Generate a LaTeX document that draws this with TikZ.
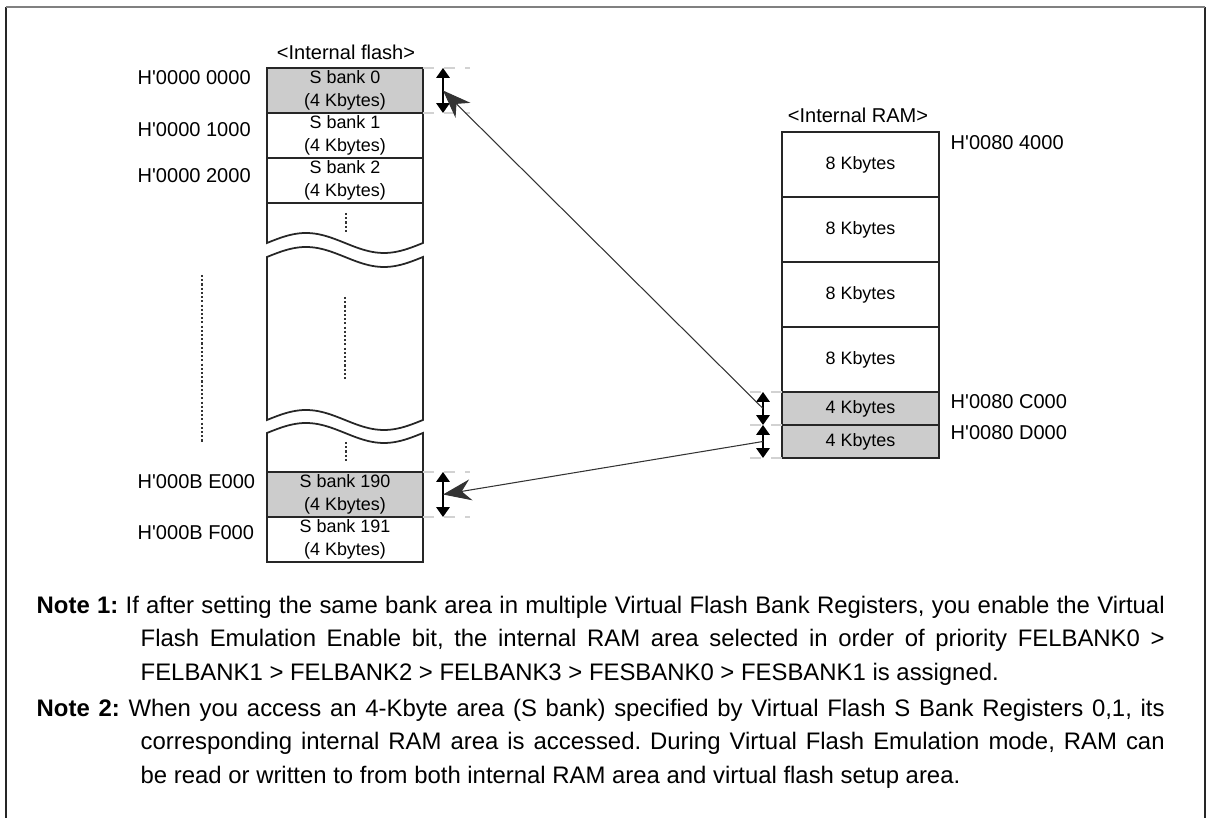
\documentclass[tikz,border=0pt]{standalone}
\usepackage{fontspec}
\setmainfont{Liberation Sans}
\usetikzlibrary{arrows.meta}

\begin{document}
\begin{tikzpicture}[
    >=Stealth,
    wall/.style={line width=0.5pt, draw=black!85},
    bank/.style={wall, minimum width=1.56cm, minimum height=0.45cm, inner sep=0pt, outer sep=0pt, align=center, font=\fontsize{5.1}{6.5}\selectfont},
    filled/.style={fill=gray!40},
    rambox/.style={bank, minimum width=1.57cm},
    addr/.style={font=\fontsize{5.7}{6.8}\selectfont, anchor=west, inner sep=0pt},
    title/.style={font=\fontsize{5.7}{6.8}\selectfont, inner sep=0pt},
    guide/.style={dashed, gray!35, line width=0.3pt},
    span/.style={{Triangle[width=3.8pt,length=2.8pt]}-{Triangle[width=3.8pt,length=2.8pt]}, line width=0.5pt},
    link/.style={-{Stealth[length=8pt,width=6pt]}, line width=0.3pt, black!80},
    dots/.style={line width=0.6pt, dash pattern=on 0.6pt off 0.6pt, black!80},
    note/.style={font=\fontsize{6.8}{9.67}\selectfont\frenchspacing, text width=11.28cm, align=justify, anchor=north west, inner sep=0pt}
]
    \useasboundingbox (0,0) rectangle (12.06,-8.18);

    % frame, open at the bottom
    \draw[line width=0.6pt, black!85] (0.06,-8.18) -- (0.06,-0.07);
    \draw[line width=0.6pt, black!85] (12.05,-0.07) -- (12.05,-8.18);
    \draw[line width=0.7pt, gray] (0.06,-0.07) -- (12.05,-0.07);

    % internal flash
    \node[title] (flash) at (3.46,-0.52) {<Internal flash>};
    \node[bank, filled] (s0) at (3.45,-0.905) {S bank 0\\(4 Kbytes)};
    \node[bank] (s1) at (3.45,-1.355) {S bank 1\\(4 Kbytes)};
    \node[bank] (s2) at (3.45,-1.805) {S bank 2\\(4 Kbytes)};
    \node[bank, filled] (s190) at (3.45,-4.945) {S bank 190\\(4 Kbytes)};
    \node[bank] (s191) at (3.45,-5.395) {S bank 191\\(4 Kbytes)};

    \draw[wall] (s2.south west) -- (2.67,-2.43)
        -- plot[domain=2.67:4.23, samples=50] (\x,{-2.43+0.1*sin(360*(\x-2.67)/1.56)})
        -- (s2.south east);
    \draw[wall] plot[domain=2.67:4.23, samples=50] (\x,{-2.57+0.1*sin(360*(\x-2.67)/1.56)})
        -- (4.23,-4.20)
        -- plot[domain=4.23:2.67, samples=50] (\x,{-4.20+0.1*sin(360*(\x-2.67)/1.56)})
        -- cycle;
    \draw[wall] (s190.north west) -- (2.67,-4.33)
        -- plot[domain=2.67:4.23, samples=50] (\x,{-4.33+0.1*sin(360*(\x-2.67)/1.56)})
        -- (s190.north east);

    \draw[dots] (3.46,-2.13) -- (3.46,-2.34);
    \draw[dots] (3.45,-2.97) -- (3.45,-3.80);
    \draw[dots] (3.46,-4.42) -- (3.46,-4.63);
    \draw[dots] (2.02,-2.75) -- (2.02,-4.43);

    \node[addr] (a0) at (1.37,-0.78) {H\textquotesingle 0000 0000};
    \node[addr] (a1) at (1.37,-1.30) {H\textquotesingle 0000 1000};
    \node[addr] (a2) at (1.37,-1.76) {H\textquotesingle 0000 2000};
    \node[addr] (a190) at (1.37,-4.82) {H\textquotesingle 000B E000};
    \node[addr] (a191) at (1.37,-5.33) {H\textquotesingle 000B F000};

    % internal RAM
    \node[title] (ram) at (8.58,-1.15) {<Internal RAM>};
    \node[rambox, minimum height=0.65cm] (r1) at (8.605,-1.645) {8 Kbytes};
    \node[rambox, minimum height=0.65cm] (r2) at (8.605,-2.295) {8 Kbytes};
    \node[rambox, minimum height=0.65cm] (r3) at (8.605,-2.945) {8 Kbytes};
    \node[rambox, minimum height=0.65cm] (r4) at (8.605,-3.595) {8 Kbytes};
    \node[rambox, filled, minimum height=0.33cm] (r5) at (8.605,-4.085) {4 Kbytes};
    \node[rambox, filled, minimum height=0.33cm] (r6) at (8.605,-4.415) {4 Kbytes};

    \node[addr] (b1) at (9.50,-1.43) {H\textquotesingle 0080 4000};
    \node[addr] (b5) at (9.50,-4.02) {H\textquotesingle 0080 C000};
    \node[addr] (b6) at (9.50,-4.33) {H\textquotesingle 0080 D000};

    % extents and mapping
    \draw[guide] (s0.north east) -- ++(0.47,0);
    \draw[guide] (s0.south east) -- ++(0.47,0);
    \draw[guide] (s190.north east) -- ++(0.47,0);
    \draw[guide] (s190.south east) -- ++(0.47,0);
    \draw[guide] (r5.north west) -- ++(-0.42,0);
    \draw[guide] (r5.south west) -- ++(-0.42,0);
    \draw[guide] (r6.south west) -- ++(-0.42,0);

    \draw[span] ([xshift=0.2cm]s0.north east) -- ([xshift=0.2cm]s0.south east);
    \draw[span] ([xshift=0.2cm]s190.north east) -- ([xshift=0.2cm]s190.south east);
    \draw[span] ([xshift=-0.19cm]r5.north west) -- ([xshift=-0.19cm]r5.south west);
    \draw[span] ([xshift=-0.19cm]r6.north west) -- ([xshift=-0.19cm]r6.south west);

    \draw[link] ([xshift=-0.19cm]r5.west) -- ([xshift=0.2cm]s0.east);
    \draw[link] ([xshift=-0.19cm]r6.west) -- ([xshift=0.2cm]s190.east);

    % notes
    \node[note] (n1) at (0.36,-5.95) {\hangindent=1.04cm\hangafter=1\tolerance=9999
        \textbf{Note 1:} If after setting the same bank area in multiple Virtual Flash Bank Registers, you enable the Virtual\linebreak
        Flash Emulation Enable bit, the internal RAM area selected in order of priority FELBANK0 >\linebreak
        FELBANK1 > FELBANK2 > FELBANK3 > FESBANK0 > FESBANK1 is assigned.\par};
    \node[note] (n2) at (0.36,-6.98) {\hangindent=1.04cm\hangafter=1\tolerance=9999
        \textbf{Note 2:} When you access an 4-Kbyte area (S bank) specified by Virtual Flash S Bank Registers 0,1, its\linebreak
        corresponding internal RAM area is accessed. During Virtual Flash Emulation mode, RAM can\linebreak
        be read or written to from both internal RAM area and virtual flash setup area.\par};
\end{tikzpicture}
\end{document}
